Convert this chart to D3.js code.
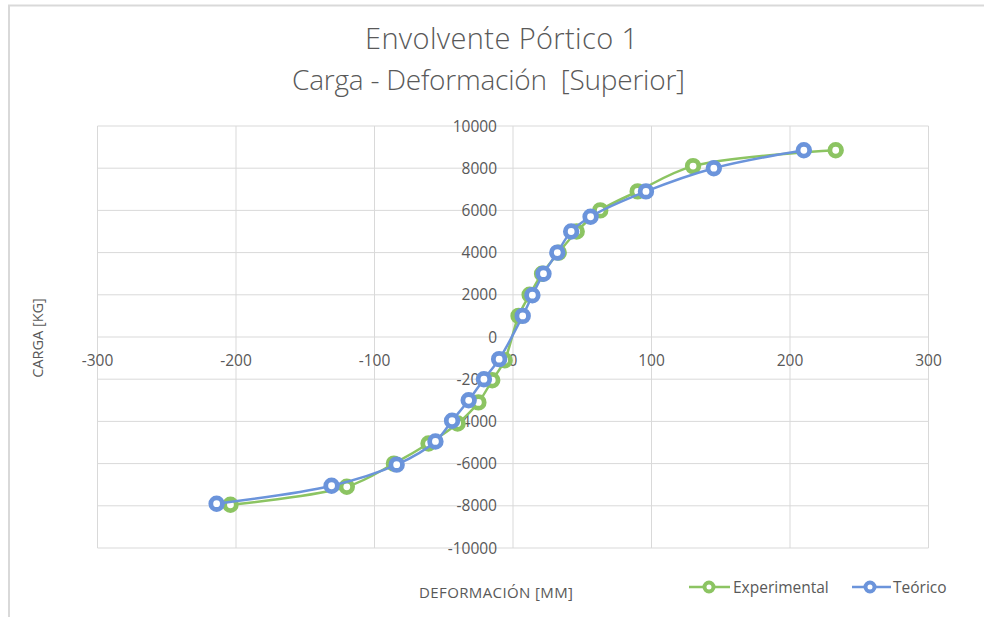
<!DOCTYPE html>
<html>
<head>
<meta charset="utf-8">
<script src="https://cdn.jsdelivr.net/npm/d3@7"></script>
<style>
  body { margin: 0; background: #fff; }
  svg { display: block; }
  text { font-family: "Open Sans", "DejaVu Sans", sans-serif; fill: #595959; white-space: pre; }
</style>
</head>
<body>
<svg id="chart" width="984" height="617"></svg>
<script>
// ---- data ----
const titleLines = ["Envolvente Pórtico 1", "Carga - Deformación  [Superior]"];
const xAxisTitle = "DEFORMACIÓN [MM]";
const yAxisTitle = "CARGA [KG]";
const seriesNames = ["Experimental", "Teórico"];

const deformacionExp = [-204, -120, -86, -61, -40, -25, -15, -6, 4, 12, 21, 33, 46, 63, 90, 130, 233];
const cargaExp       = [-7950, -7100, -6000, -5050, -4100, -3100, -2050, -1100, 1000, 2000, 3000, 4000, 5000, 6000, 6900, 8100, 8850];

const deformacionTeo = [-214, -131, -84, -56, -44, -32, -21, -10, 7, 14, 22, 32, 42, 56, 96, 145, 210];
const cargaTeo       = [-7900, -7050, -6050, -4950, -3970, -3000, -2000, -1050, 1000, 1980, 3000, 4000, 5000, 5700, 6900, 8000, 8850];

const xTicks = [-300, -200, -100, 0, 100, 200, 300];
const yTicks = [-10000, -8000, -6000, -4000, -2000, 0, 2000, 4000, 6000, 8000, 10000];

// ---- layout ----
const colors = ["#8cc462", "#6b94db"];
const svg = d3.select("#chart");
const x = d3.scaleLinear().domain([-300, 300]).range([97.5, 928.5]);
const y = d3.scaleLinear().domain([-10000, 10000]).range([548, 126]);

// outer border
svg.append("rect").attr("x", 9).attr("y", 5.5).attr("width", 1000).attr("height", 700)
  .attr("fill", "none").attr("stroke", "#d9d9d9").attr("stroke-width", 2);

// grid
const grid = svg.append("g");
grid.selectAll("line.v").data(xTicks).join("line")
  .attr("x1", d => x(d)).attr("x2", d => x(d))
  .attr("y1", y(10000)).attr("y2", y(-10000))
  .attr("stroke", "#d9d9d9").attr("stroke-width", 1);
grid.selectAll("line.h").data(yTicks).join("line")
  .attr("y1", d => y(d)).attr("y2", d => y(d))
  .attr("x1", x(-300)).attr("x2", x(300))
  .attr("stroke", "#d9d9d9").attr("stroke-width", 1);

// tick labels
svg.append("g").selectAll("text").data(yTicks).join("text")
  .attr("x", x(0) - 16).attr("y", d => y(d)).attr("dy", "0.36em")
  .attr("text-anchor", "end").attr("font-size", 15.5)
  .text(d => d);
svg.append("g").selectAll("text").data(xTicks).join("text")
  .attr("x", d => x(d)).attr("y", y(0) + 29)
  .attr("text-anchor", "middle").attr("font-size", 15.5)
  .text(d => d);

// title
svg.append("text").attr("x", 365).attr("y", 49)
  .attr("font-size", 29).attr("font-weight", 300).attr("fill", "#666")
  .attr("textLength", 273).attr("lengthAdjust", "spacing").text(titleLines[0]);
svg.append("text").attr("x", 292).attr("y", 90)
  .attr("font-size", 28).attr("font-weight", 300).attr("fill", "#666")
  .attr("textLength", 393).attr("lengthAdjust", "spacing").text(titleLines[1]);

// axis titles
svg.append("text").attr("transform", "translate(43,338) rotate(-90)")
  .attr("text-anchor", "middle").attr("font-size", 14.5).text(yAxisTitle);
svg.append("text").attr("x", 419).attr("y", 598)
  .attr("font-size", 15).attr("textLength", 154).attr("lengthAdjust", "spacing").text(xAxisTitle);

// series
const series = [
  { name: seriesNames[0], xs: deformacionExp, ys: cargaExp, color: colors[0] },
  { name: seriesNames[1], xs: deformacionTeo, ys: cargaTeo, color: colors[1] }
];
const line = d3.line().x(d => x(d[0])).y(d => y(d[1])).curve(d3.curveCatmullRom.alpha(0.5));

series.forEach(s => {
  const pts = s.xs.map((v, i) => [v, s.ys[i]]);
  const g = svg.append("g");
  g.append("path").attr("d", line(pts)).attr("fill", "none")
    .attr("stroke", s.color).attr("stroke-width", 2.5);
  g.selectAll("circle").data(pts).join("circle")
    .attr("cx", d => x(d[0])).attr("cy", d => y(d[1])).attr("r", 5.8)
    .attr("fill", "#fff").attr("stroke", s.color).attr("stroke-width", 4.8);
});

// legend
const legend = [
  { x1: 689, x2: 730, mx: 709, tx: 733 },
  { x1: 852, x2: 891, mx: 870, tx: 893 }
];
legend.forEach((l, i) => {
  const g = svg.append("g");
  g.append("line").attr("x1", l.x1).attr("x2", l.x2).attr("y1", 587).attr("y2", 587)
    .attr("stroke", colors[i]).attr("stroke-width", 2.5);
  g.append("circle").attr("cx", l.mx).attr("cy", 587).attr("r", 4.5)
    .attr("fill", "#fff").attr("stroke", colors[i]).attr("stroke-width", 4);
  g.append("text").attr("x", l.tx).attr("y", 587).attr("dy", "0.36em")
    .attr("font-size", 15.5).text(seriesNames[i]);
});
</script>
</body>
</html>
